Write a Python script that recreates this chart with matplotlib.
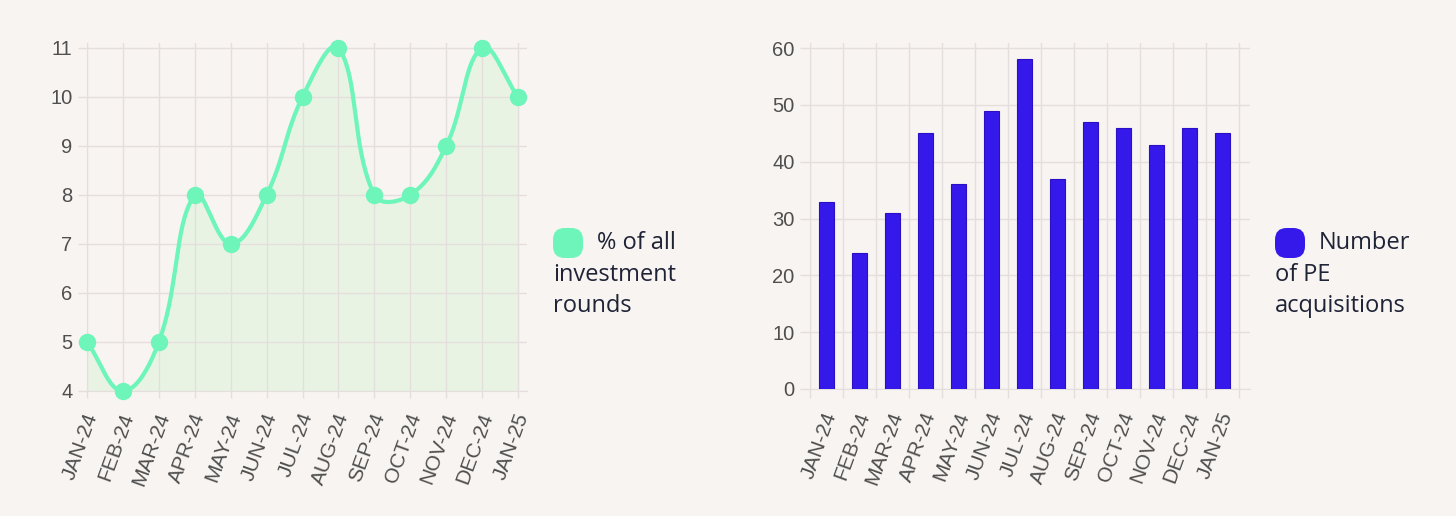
import numpy as np
import matplotlib
matplotlib.use("Agg")
import matplotlib.pyplot as plt
from matplotlib.patches import FancyBboxPatch
from matplotlib.transforms import ScaledTranslation

months = ["JAN-24", "FEB-24", "MAR-24", "APR-24", "MAY-24", "JUN-24", "JUL-24",
          "AUG-24", "SEP-24", "OCT-24", "NOV-24", "DEC-24", "JAN-25"]
pct_rounds = [5, 4, 5, 8, 7, 8, 10, 11, 8, 8, 9, 11, 10]
pe_acquisitions = [33, 24, 31, 45, 36, 49, 58, 37, 47, 46, 43, 46, 45]

bg = "#f8f4f1"
grid_c = "#e4dfdc"
tick_c = "#4f4f4f"
mint = "#6df5ba"
blue = "#3419ea"
W, H = 1456, 516


def spline(xs, ys, sx, sy, tension=0.4, n=40):
    # bezier spline like chart.js, computed in pixel-ish space
    px = np.asarray(xs, float) * sx
    py = np.asarray(ys, float) * sy
    m = len(px)
    cp_prev, cp_next = [], []
    for i in range(m):
        pp = (px[max(i - 1, 0)], py[max(i - 1, 0)])
        nn = (px[min(i + 1, m - 1)], py[min(i + 1, m - 1)])
        d01 = np.hypot(px[i] - pp[0], py[i] - pp[1])
        d12 = np.hypot(nn[0] - px[i], nn[1] - py[i])
        tot = d01 + d12 if d01 + d12 else 1
        fa, fb = tension * d01 / tot, tension * d12 / tot
        cp_prev.append((px[i] - fa * (nn[0] - pp[0]), py[i] - fa * (nn[1] - pp[1])))
        cp_next.append((px[i] + fb * (nn[0] - pp[0]), py[i] + fb * (nn[1] - pp[1])))
    t = np.linspace(0, 1, n)[:, None]
    pts = []
    for i in range(m - 1):
        p0 = np.array([px[i], py[i]])
        p1 = np.array(cp_next[i])
        p2 = np.array(cp_prev[i + 1])
        p3 = np.array([px[i + 1], py[i + 1]])
        seg = (1 - t) ** 3 * p0 + 3 * (1 - t) ** 2 * t * p1 + 3 * (1 - t) * t ** 2 * p2 + t ** 3 * p3
        pts.append(seg if i == 0 else seg[1:])
    pts = np.vstack(pts)
    return pts[:, 0] / sx, pts[:, 1] / sy


fig = plt.figure(figsize=(W / 100, H / 100), dpi=100, facecolor=bg)

# left: line chart
ax1 = fig.add_axes([87 / W, 1 - 391 / H, 440 / W, 348 / H], facecolor=bg)
x = np.arange(len(months))
cx, cy = spline(x, pct_rounds, 35.9, 49.0)
ax1.fill_between(cx, cy, 3, color="#e8f3e4", zorder=1)
ax1.plot(cx, cy, color=mint, lw=3, zorder=3, solid_capstyle="round", clip_on=False)
ax1.plot(x, pct_rounds, "o", color=mint, ms=11.5, zorder=4, clip_on=False)
ax1.set_xlim(0, 12.25)
ax1.set_ylim(4, 11.1)
ax1.set_yticks(range(4, 12))
ax1.set_xticks(x)
ax1.set_xticklabels(months)
ax1.grid(True, color=grid_c, lw=1, zorder=0)
ax1.tick_params(axis="y", length=6.5, width=1, color=grid_c, pad=4, labelsize=14.5, labelcolor=tick_c)
ax1.tick_params(axis="x", length=5, width=1, color=grid_c, pad=11, labelsize=15, labelcolor=tick_c)

# right: bar chart
ax2 = fig.add_axes([810 / W, 1 - 389 / H, 440 / W, 346 / H], facecolor=bg)
ax2.bar(x, pe_acquisitions, width=0.46, color=blue, edgecolor="#2a0fc4", lw=0.8, zorder=3)
ax2.set_xlim(-0.5, 12.83)
ax2.set_ylim(0, 60.9)
ax2.set_yticks(range(0, 61, 10))
ax2.set_xticks(x)
ax2.set_xticklabels(months)
ax2.set_xticks(np.arange(-0.5, 13, 1), minor=True)
ax2.grid(True, axis="y", color=grid_c, lw=1, zorder=0)
ax2.grid(True, axis="x", which="minor", color=grid_c, lw=1, zorder=0)
ax2.tick_params(axis="y", length=7, width=1, color=grid_c, pad=4, labelsize=14.5, labelcolor=tick_c)
ax2.tick_params(axis="x", which="major", length=0, pad=17, labelsize=15, labelcolor=tick_c)
ax2.tick_params(axis="x", which="minor", length=6.5, width=1, color=grid_c)

shift = ScaledTranslation(5 / 100, 0, fig.dpi_scale_trans)
for ax in (ax1, ax2):
    for s in ax.spines.values():
        s.set_visible(False)
    ax.spines["left"].set_visible(True)
    ax.spines["bottom"].set_visible(True)
    ax.spines["left"].set_color(grid_c)
    ax.spines["bottom"].set_color(grid_c)
    for lab in ax.get_xticklabels() + ax.get_yticklabels():
        lab.set_fontfamily(["Liberation Sans", "DejaVu Sans"])
    for lab in ax.get_xticklabels():
        lab.set_rotation(70)
        lab.set_ha("right")
        lab.set_va("center")
        lab.set_rotation_mode("anchor")
        lab.set_transform(lab.get_transform() + shift)

# legends drawn as text blocks
legend_font = ["Open Sans", "DejaVu Sans"]
def legend_block(x0, color, lines):
    box = FancyBboxPatch(((x0) / W, 1 - 258 / H), 30 / W, 30 / H,
                         boxstyle="round,pad=0,rounding_size=0.008",
                         transform=fig.transFigure, facecolor=color, edgecolor="none",
                         mutation_aspect=W / H)
    fig.patches.append(box)
    fig.text((x0 + 44) / W, 1 - 243 / H, lines[0], ha="left", va="center",
             fontsize=17, color="#1f2336", family=legend_font)
    for k, ln in enumerate(lines[1:]):
        fig.text(x0 / W, 1 - (275 + 31 * k) / H, ln, ha="left", va="center",
                 fontsize=17, color="#1f2336", family=legend_font)

legend_block(553, mint, ["% of all", "investment", "rounds"])
legend_block(1275, blue, ["Number", "of PE", "acquisitions"])

fig.savefig("out.png", dpi=100, facecolor=bg)
